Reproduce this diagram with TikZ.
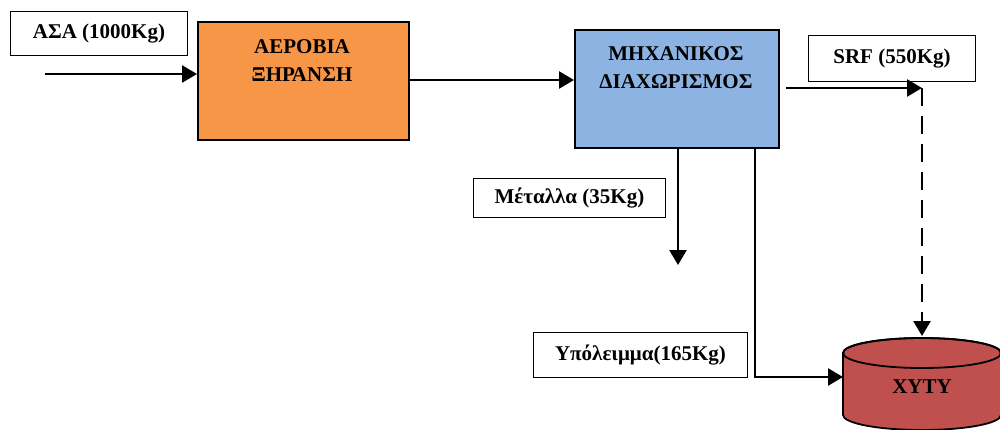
\documentclass[tikz,border=0pt]{standalone}
\usepackage{fontspec}
\setmainfont{Liberation Serif}
\usetikzlibrary{arrows.meta}
\definecolor{aerorange}{HTML}{F79646}
\definecolor{mechblue}{HTML}{8DB3E2}
\definecolor{xytyred}{HTML}{C0504D}
\begin{document}
\begin{tikzpicture}[x=1pt,y=-1pt,
  txt/.style={font=\bfseries\fontsize{21}{28}\selectfont, align=center, inner sep=0pt},
  lbl/.style={txt, draw, line width=0.9pt, fill=white, anchor=north west},
  proc/.style={draw, line width=1.8pt, anchor=north west, inner sep=0pt},
  arr/.style={line width=2.5pt, -{Triangle[length=15pt,width=17pt]}},
  dasharr/.style={arr, dash pattern=on 18pt off 10pt}]
\useasboundingbox (0,0) rectangle (1000,429);
% boxes
\node[proc, fill=aerorange, minimum width=211pt, minimum height=118pt] (aer) at (197,21) {};
\node[txt] (aertext) at (302,61) {ΑΕΡΟΒΙΑ\\ΞΗΡΑΝΣΗ};
\node[proc, fill=mechblue, minimum width=204pt, minimum height=118pt] (mech) at (574,29) {};
\node[txt] (mechtext) at (676,68) {ΜΗΧΑΝΙΚΟΣ\\ΔΙΑΧΩΡΙΣΜΟΣ};
% labels
\node[lbl, minimum width=177pt, minimum height=44pt] (asa) at (10,11) {ΑΣΑ (1000Kg)};
\node[lbl, minimum width=167pt, minimum height=46pt] (srf) at (808,35) {SRF (550Kg)};
\node[lbl, minimum width=192pt, minimum height=39pt] (met) at (473,178) {Μέταλλα (35Kg)};
\node[lbl, minimum width=214pt, minimum height=45pt] (res) at (533,332) {Υπόλειμμα(165Kg)};
% cylinder
\filldraw[fill=xytyred, line width=1.8pt] (843,353) -- (843,415)
  arc[start angle=180, end angle=360, x radius=79pt, y radius=15pt] -- (1001,353)
  arc[start angle=0, end angle=180, x radius=79pt, y radius=15pt] -- cycle;
\draw[line width=1.8pt] (922,353) ellipse [x radius=79pt, y radius=15pt];
\node[txt] (xyty) at (922,387) {ΧΥΤΥ};
% connector points
\coordinate (in) at (45,74);
\coordinate (srfend) at (922,88);
\coordinate (cyltop) at (922,336);
\coordinate (metend) at (678,265);
\coordinate (resturn) at (755,377);
\coordinate (cylleft) at (843,377);
% connectors
\draw[arr] (in) -- (in -| aer.west);
\draw[arr] (aer.east |- 0,80) -- (mech.west |- 0,80);
\draw[arr] ([xshift=6pt]srfend -| mech.east) -- (srfend);
\draw[dasharr] (srfend) -- (cyltop);
\draw[arr] (metend |- mech.south) -- (metend);
\draw[arr] (resturn |- mech.south) -- (resturn) -- (cylleft);
\end{tikzpicture}
\end{document}
